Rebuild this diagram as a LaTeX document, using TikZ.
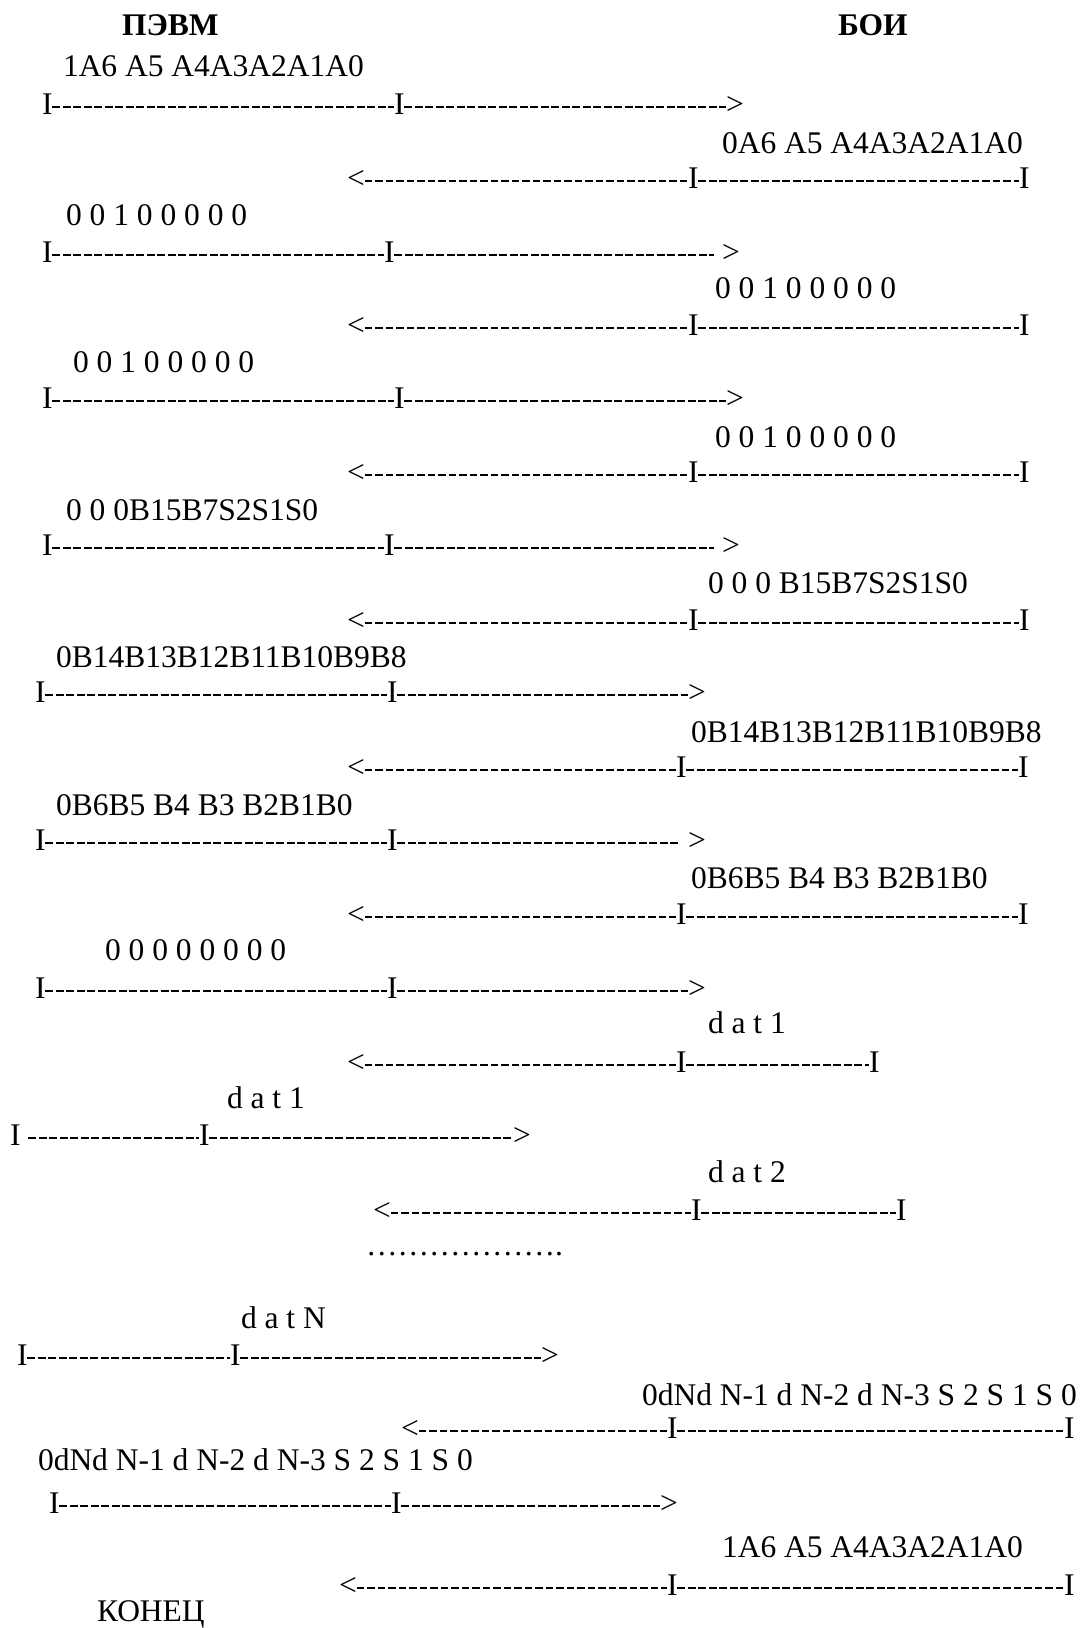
\documentclass[tikz,border=0pt]{standalone}
\usepackage{fontspec}
\setmainfont{Liberation Serif}
\usepackage{tikz}

\begin{document}
\begin{tikzpicture}[x=1pt, y=-1pt,
    every node/.style={inner sep=0, outer sep=0, anchor=base west, font=\fontsize{31.5}{36}\selectfont},
    head/.style={font=\fontsize{31.5}{36}\selectfont\bfseries},
    glyph/.style={},
    dashrule/.style={line width=2pt, dash pattern=on 7.7pt off 2.8pt}]
  \useasboundingbox (0,0) rectangle (1089,1628);

  % headers
  \node[head] (pevm) at (122,35) {ПЭВМ};
  \node[head] (boi) at (838,35) {БОИ};

  % address
  \node (d1) at (63,76) {1A6 A5 A4A3A2A1A0};
  \node[glyph] (s1a) at (42,114) {I}; \node[glyph] (s1b) at (394,114) {I}; \node[glyph] (s1c) at (726,114) {>};
  \draw[dashrule] ([yshift=7pt]s1a.base east) -- ([yshift=7pt]s1b.base west) ([yshift=7pt]s1b.base east) -- ([yshift=7pt]s1c.base west);
  \node (d2) at (722,153) {0A6 A5 A4A3A2A1A0};
  \node[glyph] (r2a) at (347,188) {<}; \node[glyph] (r2b) at (688,188) {I}; \node[glyph] (r2c) at (1019,188) {I};
  \draw[dashrule] ([yshift=7pt]r2a.base east) -- ([yshift=7pt]r2b.base west) ([yshift=7pt]r2b.base east) -- ([yshift=7pt]r2c.base west);

  % command bytes
  \node (d3) at (66,225) {0 0 1 0 0 0 0 0};
  \node[glyph] (s3a) at (42,262) {I}; \node[glyph] (s3b) at (384,262) {I}; \node[glyph] (s3c) at (722,262) {>};
  \draw[dashrule] ([yshift=7pt]s3a.base east) -- ([yshift=7pt]s3b.base west) ([yshift=7pt]s3b.base east) -- ([shift={(-8pt,7pt)}]s3c.base west);
  \node (d4) at (715,298) {0 0 1 0 0 0 0 0};
  \node[glyph] (r4a) at (347,335) {<}; \node[glyph] (r4b) at (688,335) {I}; \node[glyph] (r4c) at (1019,335) {I};
  \draw[dashrule] ([yshift=7pt]r4a.base east) -- ([yshift=7pt]r4b.base west) ([yshift=7pt]r4b.base east) -- ([yshift=7pt]r4c.base west);

  \node (d5) at (73,372) {0 0 1 0 0 0 0 0};
  \node[glyph] (s5a) at (42,408) {I}; \node[glyph] (s5b) at (394,408) {I}; \node[glyph] (s5c) at (726,408) {>};
  \draw[dashrule] ([yshift=7pt]s5a.base east) -- ([yshift=7pt]s5b.base west) ([yshift=7pt]s5b.base east) -- ([yshift=7pt]s5c.base west);
  \node (d6) at (715,447) {0 0 1 0 0 0 0 0};
  \node[glyph] (r6a) at (347,482) {<}; \node[glyph] (r6b) at (688,482) {I}; \node[glyph] (r6c) at (1019,482) {I};
  \draw[dashrule] ([yshift=7pt]r6a.base east) -- ([yshift=7pt]r6b.base west) ([yshift=7pt]r6b.base east) -- ([yshift=7pt]r6c.base west);

  % B bits
  \node (d7) at (66,520) {0 0 0B15B7S2S1S0};
  \node[glyph] (s7a) at (42,555) {I}; \node[glyph] (s7b) at (384,555) {I}; \node[glyph] (s7c) at (722,555) {>};
  \draw[dashrule] ([yshift=7pt]s7a.base east) -- ([yshift=7pt]s7b.base west) ([yshift=7pt]s7b.base east) -- ([shift={(-8pt,7pt)}]s7c.base west);
  \node (d8) at (708,593) {0 0 0 B15B7S2S1S0};
  \node[glyph] (r8a) at (347,630) {<}; \node[glyph] (r8b) at (688,630) {I}; \node[glyph] (r8c) at (1019,630) {I};
  \draw[dashrule] ([yshift=7pt]r8a.base east) -- ([yshift=7pt]r8b.base west) ([yshift=7pt]r8b.base east) -- ([yshift=7pt]r8c.base west);

  \node (d9) at (56,667) {0B14B13B12B11B10B9B8};
  \node[glyph] (s9a) at (35,702) {I}; \node[glyph] (s9b) at (387,702) {I}; \node[glyph] (s9c) at (688,702) {>};
  \draw[dashrule] ([yshift=7pt]s9a.base east) -- ([yshift=7pt]s9b.base west) ([yshift=7pt]s9b.base east) -- ([yshift=7pt]s9c.base west);
  \node (d10) at (691,742) {0B14B13B12B11B10B9B8};
  \node[glyph] (r10a) at (347,777) {<}; \node[glyph] (r10b) at (676,777) {I}; \node[glyph] (r10c) at (1018,777) {I};
  \draw[dashrule] ([yshift=7pt]r10a.base east) -- ([yshift=7pt]r10b.base west) ([yshift=7pt]r10b.base east) -- ([yshift=7pt]r10c.base west);

  \node (d11) at (56,815) {0B6B5 B4 B3 B2B1B0};
  \node[glyph] (s11a) at (35,850) {I}; \node[glyph] (s11b) at (387,850) {I}; \node[glyph] (s11c) at (688,850) {>};
  \draw[dashrule] ([yshift=7pt]s11a.base east) -- ([yshift=7pt]s11b.base west) ([yshift=7pt]s11b.base east) -- ([shift={(-8pt,7pt)}]s11c.base west);
  \node (d12) at (691,888) {0B6B5 B4 B3 B2B1B0};
  \node[glyph] (r12a) at (347,924) {<}; \node[glyph] (r12b) at (676,924) {I}; \node[glyph] (r12c) at (1018,924) {I};
  \draw[dashrule] ([yshift=7pt]r12a.base east) -- ([yshift=7pt]r12b.base west) ([yshift=7pt]r12b.base east) -- ([yshift=7pt]r12c.base west);

  \node (d13) at (105,960) {0 0 0 0 0 0 0 0};
  \node[glyph] (s13a) at (35,998) {I}; \node[glyph] (s13b) at (387,998) {I}; \node[glyph] (s13c) at (688,998) {>};
  \draw[dashrule] ([yshift=7pt]s13a.base east) -- ([yshift=7pt]s13b.base west) ([yshift=7pt]s13b.base east) -- ([yshift=7pt]s13c.base west);

  % data
  \node (d14) at (708,1033) {d a t 1};
  \node[glyph] (r14a) at (347,1072) {<}; \node[glyph] (r14b) at (676,1072) {I}; \node[glyph] (r14c) at (869,1072) {I};
  \draw[dashrule] ([yshift=7pt]r14a.base east) -- ([yshift=7pt]r14b.base west) ([yshift=7pt]r14b.base east) -- ([yshift=7pt]r14c.base west);
  \node (d15) at (227,1108) {d a t 1};
  \node[glyph] (s15a) at (10,1145) {I}; \node[glyph] (s15b) at (199,1145) {I}; \node[glyph] (s15c) at (513,1145) {>};
  \draw[dashrule] ([shift={(8pt,7pt)}]s15a.base east) -- ([yshift=7pt]s15b.base west) ([yshift=7pt]s15b.base east) -- ([yshift=7pt]s15c.base west);
  \node (d16) at (708,1182) {d a t 2};
  \node[glyph] (r16a) at (373,1220) {<}; \node[glyph] (r16b) at (691,1220) {I}; \node[glyph] (r16c) at (896,1220) {I};
  \draw[dashrule] ([yshift=7pt]r16a.base east) -- ([yshift=7pt]r16b.base west) ([yshift=7pt]r16b.base east) -- ([yshift=7pt]r16c.base west);
  \node (dots) at (366,1255) {……………….};

  \node (d18) at (241,1328) {d a t N};
  \node[glyph] (s18a) at (17,1365) {I}; \node[glyph] (s18b) at (230,1365) {I}; \node[glyph] (s18c) at (541,1365) {>};
  \draw[dashrule] ([yshift=7pt]s18a.base east) -- ([yshift=7pt]s18b.base west) ([yshift=7pt]s18b.base east) -- ([yshift=7pt]s18c.base west);

  % checksum
  \node (d19) at (642,1405) {0dNd N-1 d N-2 d N-3 S 2 S 1 S 0};
  \node[glyph] (r19a) at (401,1438) {<}; \node[glyph] (r19b) at (667,1438) {I}; \node[glyph] (r19c) at (1064,1438) {I};
  \draw[dashrule] ([yshift=7pt]r19a.base east) -- ([yshift=7pt]r19b.base west) ([yshift=7pt]r19b.base east) -- ([yshift=7pt]r19c.base west);
  \node (d20) at (38,1470) {0dNd N-1 d N-2 d N-3 S 2 S 1 S 0};
  \node[glyph] (s20a) at (49,1513) {I}; \node[glyph] (s20b) at (391,1513) {I}; \node[glyph] (s20c) at (660,1513) {>};
  \draw[dashrule] ([yshift=7pt]s20a.base east) -- ([yshift=7pt]s20b.base west) ([yshift=7pt]s20b.base east) -- ([yshift=7pt]s20c.base west);
  \node (d21) at (722,1557) {1A6 A5 A4A3A2A1A0};
  \node[glyph] (r21a) at (339,1595) {<}; \node[glyph] (r21b) at (667,1595) {I}; \node[glyph] (r21c) at (1064,1595) {I};
  \draw[dashrule] ([yshift=7pt]r21a.base east) -- ([yshift=7pt]r21b.base west) ([yshift=7pt]r21b.base east) -- ([yshift=7pt]r21c.base west);

  \node (fin) at (97,1621) {КОНЕЦ};
\end{tikzpicture}
\end{document}
